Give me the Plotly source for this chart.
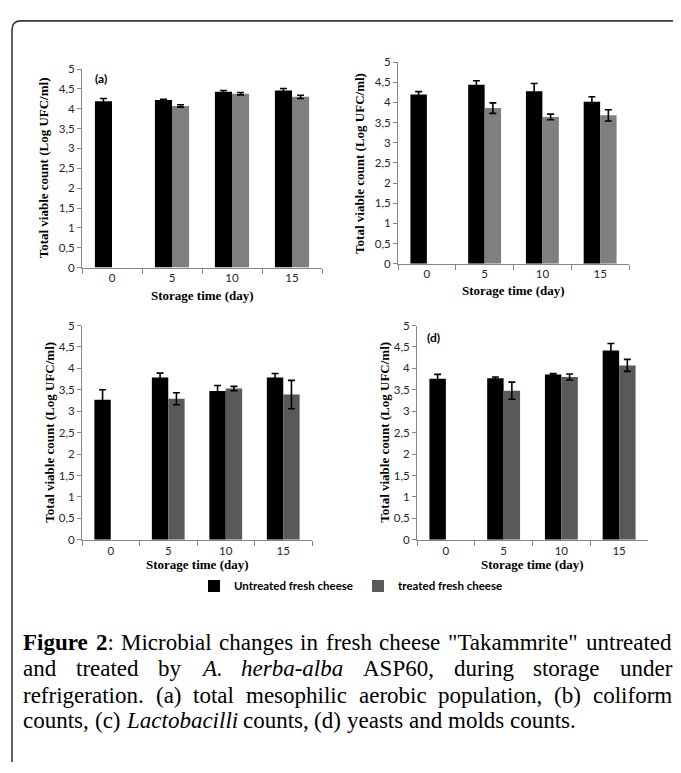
import plotly.graph_objects as go

# ---------------- data ----------------
days = ["0", "5", "10", "15"]
series_names = ["Untreated fresh cheese", "treated fresh cheese"]

a_untreated = [4.19, 4.22, 4.43, 4.46]
a_untreated_err = [0.07, 0.02, 0.03, 0.05]
a_treated = [None, 4.07, 4.38, 4.30]
a_treated_err = [None, 0.03, 0.03, 0.04]

b_untreated = [4.20, 4.44, 4.28, 4.02]
b_untreated_err = [0.07, 0.10, 0.19, 0.12]
b_treated = [None, 3.86, 3.64, 3.68]
b_treated_err = [None, 0.13, 0.07, 0.14]

c_untreated = [3.27, 3.79, 3.47, 3.79]
c_untreated_err = [0.23, 0.10, 0.13, 0.09]
c_treated = [None, 3.29, 3.53, 3.39]
c_treated_err = [None, 0.14, 0.05, 0.33]

d_untreated = [3.76, 3.77, 3.86, 4.42]
d_untreated_err = [0.10, 0.03, 0.02, 0.16]
d_treated = [None, 3.48, 3.80, 4.07]
d_treated_err = [None, 0.20, 0.07, 0.14]

ytick_vals = [0, 0.5, 1, 1.5, 2, 2.5, 3, 3.5, 4, 4.5, 5]
ytick_text = ["0", "0,5", "1", "1,5", "2", "2,5", "3", "3,5", "4", "4,5", "5"]

y_title = "Total viable count (Log UFC/ml)"
x_title = "Storage time (day)"

caption_lines = [
    [[("Figure", "b")], [("2", "b"), (":", "r")], [("Microbial", "r")], [("changes", "r")], [("in", "r")],
     [("fresh", "r")], [("cheese", "r")], [('"Takammrite"', "r")], [("untreated", "r")]],
    [[("and", "r")], [("treated", "r")], [("by", "r")], [("A.", "i")], [("herba-alba", "i")],
     [("ASP60,", "r")], [("during", "r")], [("storage", "r")], [("under", "r")]],
    [[("refrigeration.", "r")], [("(a)", "r")], [("total", "r")], [("mesophilic", "r")], [("aerobic", "r")],
     [("population,", "r")], [("(b)", "r")], [("coliform", "r")]],
    [[("counts,", "r")], [("(c)", "r")], [("Lactobacilli", "i")], [("counts,", "r")], [("(d)", "r")],
     [("yeasts", "r")], [("and", "r")], [("molds", "r")], [("counts.", "r")]],
]
caption_justify = [True, True, True, False]

# ---------------- layout helpers ----------------
# The page body has an 8px margin, so the figure is drawn 8px in from the window's edge.
OFF = 8
W, H = 665, 754


def fx(p):
    return (p - OFF) / W


def fy(p):
    return 1 - (p - OFF) / H


SERIF = "Liberation Serif"
SANS = "Lato"
BLACK = "#000000"
GREY_LIGHT = "#7f7f7f"
GREY_DARK = "#595959"
AXIS_COL = "#868686"

panels = [
    dict(key="", lab="(a)", u=a_untreated, ue=a_untreated_err, t=a_treated, te=a_treated_err, g=GREY_LIGHT,
         xr=(82, 322), yr=(265, 63), ytx=43, xty=293, lp=(93, 73)),
    dict(key="2", lab=None, u=b_untreated, ue=b_untreated_err, t=b_treated, te=b_treated_err, g=GREY_LIGHT,
         xr=(398, 629), yr=(261, 56), ytx=360, xty=288, lp=None),
    dict(key="3", lab=None, u=c_untreated, ue=c_untreated_err, t=c_treated, te=c_treated_err, g=GREY_DARK,
         xr=(82, 312), yr=(542, 324), ytx=50, xty=567, lp=None),
    dict(key="4", lab="(d)", u=d_untreated, ue=d_untreated_err, t=d_treated, te=d_treated_err, g=GREY_DARK,
         xr=(417, 648), yr=(542, 324), ytx=385, xty=567, lp=(425, 336)),
]

fig = go.Figure()
annotations = []

for i, p in enumerate(panels):
    xa = "x" + p["key"]
    ya = "y" + p["key"]
    show = (i == 2)
    fig.add_trace(go.Bar(
        x=days, y=p["u"], name=series_names[0], xaxis=xa, yaxis=ya,
        marker=dict(color=BLACK, line=dict(width=0)),
        error_y=dict(type="data", array=p["ue"], visible=True, color=BLACK, thickness=1.6, width=3.5),
        showlegend=show, legendrank=1,
    ))
    fig.add_trace(go.Bar(
        x=days, y=p["t"], name=series_names[1], xaxis=xa, yaxis=ya,
        marker=dict(color=p["g"], line=dict(width=0)),
        error_y=dict(type="data", array=p["te"], visible=True, color=BLACK, thickness=1.6, width=3.5),
        showlegend=show, legendrank=2,
    ))
    xdom = [fx(p["xr"][0]), fx(p["xr"][1])]
    ydom = [fy(p["yr"][0]), fy(p["yr"][1])]
    fig.update_layout(**{
        "xaxis" + p["key"]: dict(
            domain=xdom, anchor=ya, type="category", showline=True, linecolor=AXIS_COL, linewidth=1,
            ticks="outside", tickson="boundaries", ticklen=5, tickcolor=AXIS_COL, tickwidth=1,
            showgrid=False, zeroline=False, fixedrange=True,
            tickfont=dict(family=SANS, size=11.5, color="#262626"),
        ),
        "yaxis" + p["key"]: dict(
            domain=ydom, anchor=xa, range=[0, 5], tickvals=ytick_vals, ticktext=ytick_text,
            showline=True, linecolor=AXIS_COL, linewidth=1, ticks="outside", ticklen=4,
            tickcolor=AXIS_COL, tickwidth=1, showgrid=False, zeroline=False, fixedrange=True,
            tickfont=dict(family=SANS, size=11.5, color="#262626"),
        ),
    })
    annotations.append(dict(
        text="<b>" + y_title + "</b>", xref="paper", yref="paper", x=fx(p["ytx"]),
        y=(ydom[0] + ydom[1]) / 2, textangle=-90, showarrow=False, xanchor="center", yanchor="middle",
        font=dict(family=SERIF, size=13, color=BLACK),
    ))
    annotations.append(dict(
        text="<b>" + x_title + "</b>", xref="paper", yref="paper", x=(xdom[0] + xdom[1]) / 2,
        y=fy(p["xty"]), showarrow=False, xanchor="center", yanchor="middle",
        font=dict(family=SERIF, size=13, color=BLACK),
    ))
    if p["lab"]:
        annotations.append(dict(
            text="<b>" + p["lab"] + "</b>", xref="paper", yref="paper", x=fx(p["lp"][0]), y=fy(p["lp"][1]),
            showarrow=False, xanchor="left", yanchor="middle", font=dict(family=SANS, size=12, color=BLACK),
        ))

# ---------------- caption (justified, Times metrics) ----------------
W_R = {" ": 250, '"': 408, "(": 333, ")": 333, ",": 250, "-": 333, ".": 250, ":": 278,
       "0": 500, "2": 500, "5": 500, "6": 500, "A": 722, "C": 667, "M": 889, "P": 556, "S": 556, "T": 611,
       "a": 444, "b": 500, "c": 444, "d": 500, "e": 444, "f": 333, "g": 500, "h": 500, "i": 278, "k": 500,
       "l": 278, "m": 778, "n": 500, "o": 500, "p": 500, "r": 333, "s": 389, "t": 278, "u": 500, "v": 500,
       "y": 500, "w": 722}
W_I = {"A": 611, ".": 250, "h": 500, "e": 444, "r": 389, "b": 500, "a": 500, "-": 333, "l": 278,
       "L": 556, "c": 444, "t": 278, "o": 500, "i": 278}
W_B = {"F": 611, "i": 278, "g": 500, "u": 556, "r": 444, "e": 444, "2": 500}
WT = {"r": W_R, "i": W_I, "b": W_B}

CAP_SIZE = 23.0
CAP_LEFT, CAP_RIGHT = 22, 671
CAP_Y = [646, 673, 700, 726]


def word_width(word):
    return sum(WT[st].get(ch, 500) for txt, st in word for ch in txt) * CAP_SIZE / 1000.0


def word_html(word):
    out = ""
    for txt, st in word:
        if st == "b":
            out += "<b>" + txt + "</b>"
        elif st == "i":
            out += "<i>" + txt + "</i>"
        else:
            out += txt
    return out


for li, words in enumerate(caption_lines):
    widths = [word_width(w) for w in words]
    if caption_justify[li]:
        gap = (CAP_RIGHT - CAP_LEFT - sum(widths)) / (len(words) - 1)
    else:
        gap = 250 * CAP_SIZE / 1000.0
    xpos = CAP_LEFT
    for w, wd in zip(words, widths):
        annotations.append(dict(
            text=word_html(w), xref="paper", yref="paper", x=fx(xpos), y=fy(CAP_Y[li]),
            showarrow=False, xanchor="left", yanchor="middle", borderpad=0,
            font=dict(family=SERIF, size=CAP_SIZE, color=BLACK),
        ))
        xpos += wd + gap

# ---------------- frame (rounded corner top-left, runs past right/bottom edge) ----------------
L, T, R, B, rad = 12, 14, 700, 800, 9
frame_path = (
    f"M {fx(L)},{fy(B)} L {fx(L)},{fy(T + rad)} Q {fx(L)},{fy(T)} {fx(L + rad)},{fy(T)} "
    f"L {fx(R)},{fy(T)}"
)

fig.update_layout(
    width=W, height=H, autosize=False,
    margin=dict(l=0, r=0, t=0, b=0),
    paper_bgcolor="white", plot_bgcolor="white",
    barmode="group", bargap=0.43, bargroupgap=0,
    annotations=annotations,
    shapes=[dict(type="path", path=frame_path, xref="paper", yref="paper",
                 line=dict(color="#3a3a3a", width=1.6))],
    legend=dict(orientation="h", x=fx(194), y=fy(589), xanchor="left", yanchor="middle",
                font=dict(family=SANS, size=11.5, color=BLACK, weight="bold"),
                bgcolor="rgba(0,0,0,0)", itemclick=False, itemdoubleclick=False, traceorder="normal"),
    showlegend=True,
)

fig.write_html("out.html")
